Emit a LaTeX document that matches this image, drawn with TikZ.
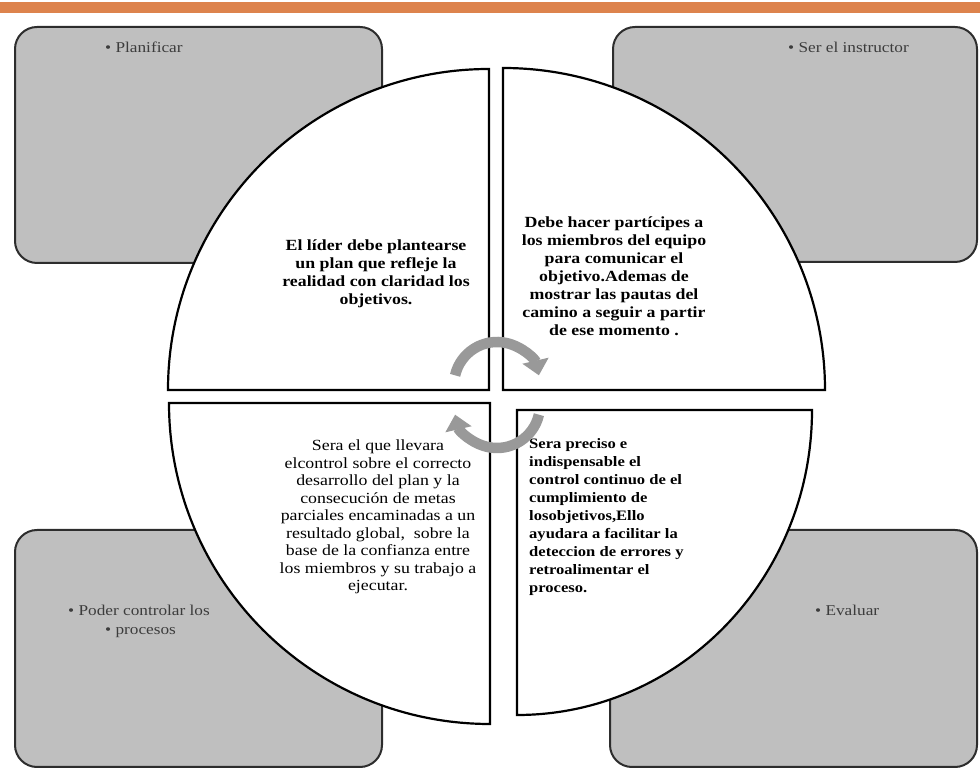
\documentclass[tikz,border=0pt]{standalone}
\usepackage{fontspec}
\setmainfont{Liberation Serif}[FakeStretch=1.15]
\usetikzlibrary{arrows.meta}
\definecolor{barorange}{RGB}{221,131,77}
\definecolor{boxgray}{RGB}{191,191,191}
\definecolor{boxline}{RGB}{45,45,45}
\definecolor{arrowgray}{RGB}{153,153,153}
\definecolor{labeltext}{RGB}{60,60,60}
\begin{document}
\begin{tikzpicture}[x=1pt,y=1pt,
  sidebox/.style={draw=boxline, fill=boxgray, line width=2pt, rounded corners=22pt},
  quad/.style={draw=black, fill=white, line width=2.2pt, line join=miter},
  cyc/.style={draw=arrowgray, line width=10.5pt, -{Triangle[length=15pt,width=26pt]}},
  boxlabel/.style={anchor=west, text=labeltext, font=\fontsize{15}{17}\selectfont, inner sep=0pt},
  quadtext/.style={font=\fontsize{15.5}{18}\selectfont\bfseries, align=center, inner sep=0pt},
  quadplain/.style={font=\fontsize{15.5}{17.5}\selectfont, align=center, inner sep=0pt},
]
\useasboundingbox (0,0) rectangle (980,776);
\fill[barorange] (0,763) rectangle (980,774);

% side boxes
\draw[sidebox] (15,513) rectangle (382,749);
\draw[sidebox] (613,514) rectangle (977,749);
\draw[sidebox] (15,9) rectangle (382,246);
\draw[sidebox] (610,9) rectangle (977,246);

\node[boxlabel] (lplan) at (105,729) {• Planificar};
\node[boxlabel] (linst) at (788,729) {• Ser el instructor};
\node[boxlabel] (lpod1) at (68,166) {• Poder controlar los};
\node[boxlabel] (lpod2) at (105,143) {• procesos};
\node[boxlabel] (leval) at (815,166) {• Evaluar};

% quadrants
\coordinate (ctl) at (489,386);
\coordinate (ctr) at (503,386);
\coordinate (cbl) at (490,373);
\coordinate (cbr) at (517,366);
\draw[quad] (ctl) -- ++(-321,0) arc[start angle=180,end angle=90,radius=321] -- cycle;
\draw[quad] (ctr) -- ++(0,322) arc[start angle=90,end angle=0,radius=322] -- cycle;
\draw[quad] (cbl) -- ++(-321,0) arc[start angle=180,end angle=270,radius=321] -- cycle;
\draw[quad] (cbr) -- ++(295,0) arc[start angle=0,end angle=-90,x radius=295,y radius=305] -- cycle;

\node[quadtext] (ttl) at (376,502) {El líder debe plantearse\\un plan que refleje la\\realidad con claridad los\\objetivos.};
\node[quadtext] (ttr) at (614,500) {Debe hacer partícipes a\\los miembros del equipo\\para comunicar el\\objetivo.Ademas de\\mostrar las pautas del\\camino a seguir a partir\\de ese momento .};
\node[quadplain] (tbl) at (378,259) {Sera el que llevara\\elcontrol sobre el correcto\\desarrollo del plan y la\\consecución de metas\\parciales encaminadas a un\\resultado global,~~sobre la\\base de la confianza entre\\los miembros y su trabajo a\\ejecutar.};
\node[quadtext, font=\fontsize{14.4}{18}\selectfont\bfseries, align=left, anchor=west] (tbr) at (529,258.5) {Sera preciso e\\indispensable el\\control continuo de el\\cumplimiento de\\losobjetivos,Ello\\ayudara a facilitar la\\deteccion de errores y\\retroalimentar el\\proceso.};

% cycle arrows
\coordinate (topc) at (497,391);
\coordinate (botc) at (497,371);
\draw[cyc] ([shift={(167:43)}]topc) arc[start angle=167,end angle=13,radius=43];
\draw[cyc] ([shift={(-13:43)}]botc) arc[start angle=-13,end angle=-167,radius=43];
\end{tikzpicture}
\end{document}
